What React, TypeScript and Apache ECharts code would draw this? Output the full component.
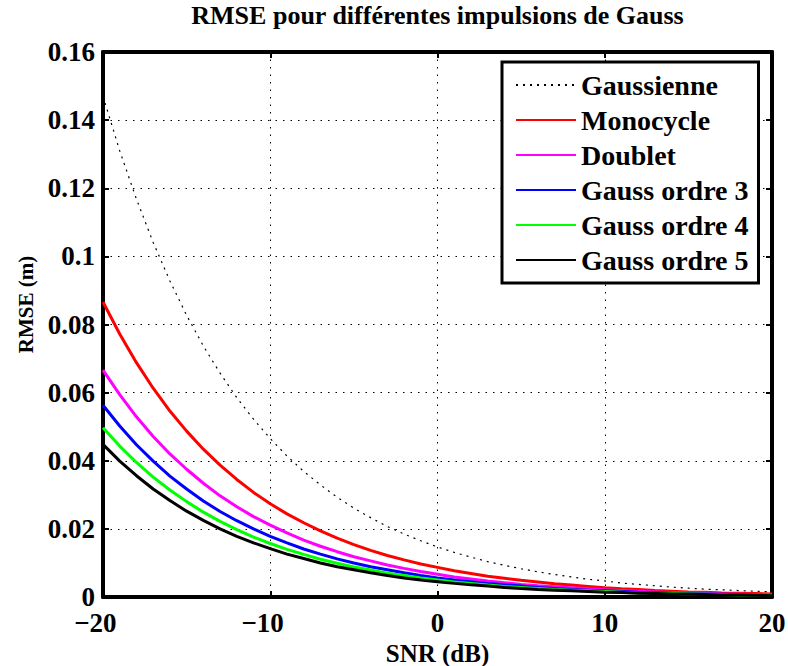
import React, { useEffect, useRef } from "react";
import * as echarts from "echarts";

const snrDb = [-20, -19, -18, -17, -16, -15, -14, -13, -12, -11, -10, -9, -8, -7, -6, -5, -4, -3, -2, -1, 0, 1, 2, 3, 4, 5, 6, 7, 8, 9, 10, 11, 12, 13, 14, 15, 16, 17, 18, 19, 20];

const gaussienne = [0.147, 0.131, 0.1168, 0.1041, 0.0928, 0.0827, 0.0737, 0.0657, 0.0585, 0.0522, 0.0465, 0.0414, 0.0369, 0.0329, 0.0293, 0.0261, 0.0233, 0.0207, 0.0185, 0.0165, 0.0147, 0.0131, 0.0117, 0.0104, 0.0093, 0.0083, 0.0074, 0.0066, 0.0059, 0.0052, 0.0047, 0.0041, 0.0037, 0.0033, 0.0029, 0.0026, 0.0023, 0.0021, 0.0019, 0.0017, 0.0015];
const monocycle = [0.0866, 0.0772, 0.0688, 0.0613, 0.0546, 0.0487, 0.0434, 0.0387, 0.0345, 0.0307, 0.0274, 0.0244, 0.0218, 0.0194, 0.0173, 0.0154, 0.0137, 0.0122, 0.0109, 0.0097, 0.0087, 0.0077, 0.0069, 0.0061, 0.0055, 0.0049, 0.0044, 0.0039, 0.0035, 0.0031, 0.0027, 0.0024, 0.0022, 0.0019, 0.0017, 0.0015, 0.0014, 0.0012, 0.0011, 0.001, 0.0009];
const doublet = [0.0666, 0.0594, 0.0529, 0.0471, 0.042, 0.0375, 0.0334, 0.0297, 0.0265, 0.0236, 0.0211, 0.0188, 0.0167, 0.0149, 0.0133, 0.0118, 0.0106, 0.0094, 0.0084, 0.0075, 0.0067, 0.0059, 0.0053, 0.0047, 0.0042, 0.0037, 0.0033, 0.003, 0.0027, 0.0024, 0.0021, 0.0019, 0.0017, 0.0015, 0.0013, 0.0012, 0.0011, 0.0009, 0.0008, 0.0007, 0.0007];
const gaussOrdre3 = [0.0563, 0.0502, 0.0447, 0.0399, 0.0355, 0.0317, 0.0282, 0.0251, 0.0224, 0.02, 0.0178, 0.0159, 0.0141, 0.0126, 0.0112, 0.01, 0.0089, 0.008, 0.0071, 0.0063, 0.0056, 0.005, 0.0045, 0.004, 0.0036, 0.0032, 0.0028, 0.0025, 0.0022, 0.002, 0.0018, 0.0016, 0.0014, 0.0013, 0.0011, 0.001, 0.0009, 0.0008, 0.0007, 0.0006, 0.0006];
const gaussOrdre4 = [0.0497, 0.0443, 0.0395, 0.0352, 0.0314, 0.028, 0.0249, 0.0222, 0.0198, 0.0176, 0.0157, 0.014, 0.0125, 0.0111, 0.0099, 0.0088, 0.0079, 0.007, 0.0063, 0.0056, 0.005, 0.0044, 0.004, 0.0035, 0.0031, 0.0028, 0.0025, 0.0022, 0.002, 0.0018, 0.0016, 0.0014, 0.0012, 0.0011, 0.001, 0.0009, 0.0008, 0.0007, 0.0006, 0.0006, 0.0005];
const gaussOrdre5 = [0.0448, 0.0399, 0.0356, 0.0317, 0.0283, 0.0252, 0.0225, 0.02, 0.0178, 0.0159, 0.0142, 0.0126, 0.0113, 0.01, 0.0089, 0.008, 0.0071, 0.0063, 0.0056, 0.005, 0.0045, 0.004, 0.0036, 0.0032, 0.0028, 0.0025, 0.0022, 0.002, 0.0018, 0.0016, 0.0014, 0.0013, 0.0011, 0.001, 0.0009, 0.0008, 0.0007, 0.0006, 0.0006, 0.0005, 0.0004];

const seriesNames = ["Gaussienne", "Monocycle", "Doublet", "Gauss ordre 3", "Gauss ordre 4", "Gauss ordre 5"];
const seriesValues = [gaussienne, monocycle, doublet, gaussOrdre3, gaussOrdre4, gaussOrdre5];
const seriesColors = ["#000000", "#ff0000", "#ff00ff", "#0000ff", "#00ff00", "#000000"];

const xTicks = [-20, -10, 0, 10, 20];
const yTicks = [0, 0.02, 0.04, 0.06, 0.08, 0.1, 0.12, 0.14, 0.16];

const titleText = "RMSE pour différentes impulsions de Gauss";
const xLabel = "SNR (dB)";
const yLabel = "RMSE (m)";

const FONT = "'Liberation Serif', 'DejaVu Serif', serif";

export default function App() {
  const ref = useRef<HTMLDivElement>(null);

  useEffect(() => {
    if (!ref.current) return;
    const chart = echarts.init(ref.current, undefined, { renderer: "svg" });

    const xMin = xTicks[0];
    const xMax = xTicks[xTicks.length - 1];
    const xInt = xTicks[1] - xTicks[0];
    const yMin = yTicks[0];
    const yMax = yTicks[yTicks.length - 1];
    const yInt = 0.02;

    const axisLine = { show: true, onZero: false, lineStyle: { color: "#000", width: 4 } };
    const axisTick = { show: true, inside: true, length: 6, lineStyle: { color: "#000", width: 2 } };
    const gridLine = { show: true, lineStyle: { color: "#000", width: 1, type: [1.5, 6] } };
    const tickFont = { fontSize: 27, fontWeight: "bold", color: "#000", fontFamily: FONT };

    const fmtX = (v: number) => (v < 0 ? "{m|\u2212}" + Math.abs(v) + "{h|\u2212}" : String(v));

    const option: any = {
      animation: false,
      backgroundColor: "#fff",
      grid: { left: 103, right: 16, top: 52, bottom: 69, containLabel: false, outerBoundsMode: "none" },
      graphic: [
        {
          type: "text",
          x: 437.5,
          y: 15,
          style: {
            text: titleText,
            fontSize: 26,
            fontWeight: "bold",
            fontFamily: FONT,
            fill: "#000",
            textAlign: "center",
            textVerticalAlign: "middle",
          },
        },
      ],
      legend: {
        orient: "vertical",
        left: 502,
        top: 62,
        data: seriesNames,
        itemWidth: 60,
        itemHeight: 14,
        itemGap: 7,
        padding: [9, 10, 9, 13],
        backgroundColor: "#fff",
        borderColor: "#000",
        borderWidth: 3,
        itemStyle: { opacity: 0 },
        textStyle: { fontSize: 28, lineHeight: 28, fontWeight: "bold", color: "#000", fontFamily: FONT },
        z: 10,
      },
      xAxis: [
        {
          type: "value",
          position: "bottom",
          min: xMin,
          max: xMax,
          interval: xInt,
          axisLine,
          axisTick,
          splitLine: gridLine,
          axisLabel: {
            ...tickFont,
            margin: 12,
            formatter: fmtX,
            rich: {
              m: { ...tickFont },
              h: { ...tickFont, color: "transparent" },
            },
          },
          name: xLabel,
          nameLocation: "middle",
          nameGap: 26,
          nameTextStyle: { fontSize: 25, lineHeight: 25, fontWeight: "bold", color: "#000", fontFamily: FONT },
        },
        {
          type: "value",
          position: "top",
          min: xMin,
          max: xMax,
          interval: xInt,
          axisLine,
          axisTick,
          splitLine: { show: false },
          axisLabel: { show: false },
        },
      ],
      yAxis: [
        {
          type: "value",
          position: "left",
          min: yMin,
          max: yMax,
          interval: yInt,
          axisLine,
          axisTick,
          splitLine: gridLine,
          axisLabel: { ...tickFont, margin: 8 },
          name: yLabel,
          nameLocation: "middle",
          nameGap: 66,
          nameTextStyle: {
            fontSize: 21,
            lineHeight: 21,
            fontWeight: "bold",
            color: "#000",
            fontFamily: FONT,
            padding: [0, 0, 0, 40],
          },
        },
        {
          type: "value",
          position: "right",
          min: yMin,
          max: yMax,
          interval: yInt,
          axisLine,
          axisTick,
          splitLine: { show: false },
          axisLabel: { show: false },
        },
      ],
      series: seriesNames.map((name, i) => ({
        name,
        type: "line",
        xAxisIndex: 0,
        yAxisIndex: 0,
        data: snrDb.map((x, j) => [x, seriesValues[i][j]]),
        symbol: "none",
        smooth: false,
        color: seriesColors[i],
        lineStyle: {
          color: seriesColors[i],
          width: i === 0 ? 1.2 : 3,
          type: i === 0 ? [2, 5] : "solid",
        },
        z: 3 + i,
      })),
    };

    chart.setOption(option);
    return () => chart.dispose();
  }, []);

  return <div ref={ref} style={{ width: 788, height: 666, position: "absolute", left: 0, top: 0 }} />;
}
